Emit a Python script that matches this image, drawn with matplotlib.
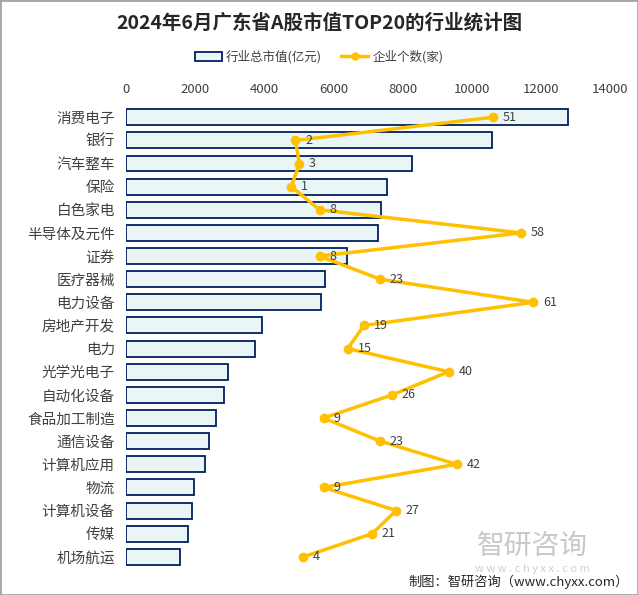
import matplotlib.pyplot as plt
import numpy as np
from matplotlib.patches import Rectangle
from matplotlib.lines import Line2D

plt.rcParams['font.family'] = ['Noto Sans CJK SC', 'DejaVu Sans']

# data
industries = ['消费电子', '银行', '汽车整车', '保险', '白色家电', '半导体及元件', '证券',
              '医疗器械', '电力设备', '房地产开发', '电力', '光学光电子', '自动化设备',
              '食品加工制造', '通信设备', '计算机应用', '物流', '计算机设备', '传媒', '机场航运']
market_cap = [12800, 10590, 8280, 7550, 7380, 7300, 6400, 5760, 5630, 3920, 3740,
              2940, 2840, 2610, 2410, 2290, 1980, 1920, 1800, 1570]
companies = [51, 2, 3, 1, 8, 58, 8, 23, 61, 19, 15, 40, 26, 9, 23, 42, 9, 27, 21, 4]

bar_face = '#EAF6F6'
bar_edge = '#002060'
line_col = '#FFC000'
txt_col = '#404040'

fig = plt.figure(figsize=(6.38, 5.95), dpi=100)
ax = fig.add_axes([0.1975, 0.0447, 0.7585, 0.7777])

y = np.arange(len(industries))
ax.barh(y, market_cap, height=0.69, color=bar_face, edgecolor=bar_edge, linewidth=1.3)
ax.set_ylim(len(industries) - 0.5, -0.5)
ax.set_xlim(0, 14000)
ax.set_yticks(y)
ax.set_yticklabels(industries, fontsize=10.5, color=txt_col)
ax.tick_params(axis='y', length=0, pad=8)
for s in ax.spines.values():
    s.set_visible(False)

# company count on a hidden second axis
ax2 = ax.twiny()
ax2.set_xlim(-40, 80)
ax2.plot(companies, y, color=line_col, linewidth=2.5, marker='o', markersize=6)
for xi, yi in zip(companies, y):
    ax2.annotate(str(xi), (xi, yi), xytext=(7, 0), textcoords='offset points',
                 ha='left', va='center', fontsize=9, color=txt_col)
ax2.set_xticks([])
for s in ax2.spines.values():
    s.set_visible(False)

# value axis labels on top
ax.xaxis.set_ticks_position('top')
ax.set_xticks(range(0, 14001, 2000))
ax.tick_params(axis='x', length=0, labelsize=9.5, colors=txt_col, pad=7,
               labeltop=True, labelbottom=False)

fig.text(0.5, 0.962, '2024年6月广东省A股市值TOP20的行业统计图', ha='center', va='center',
         fontsize=14, fontweight='bold', color='#262626')

handles = [Rectangle((0, 0), 1, 1, facecolor=bar_face, edgecolor=bar_edge, linewidth=1.3),
           Line2D([], [], color=line_col, linewidth=2.5, marker='o', markersize=5)]
fig.legend(handles, ['行业总市值(亿元)', '企业个数(家)'], loc='center', bbox_to_anchor=(0.5, 0.904),
           ncol=2, frameon=False, fontsize=9, handlelength=2.2, columnspacing=1.5,
           labelcolor=txt_col, handletextpad=0.3)

# watermark and source
fig.text(0.835, 0.082, '智研咨询', ha='center', va='center', fontsize=20, color='#c8c8c8')
fig.text(0.835, 0.043, 'w w w . c h y x x . c o m', ha='center', va='center', fontsize=8, color='#d0d0d0')
fig.text(0.985, 0.022, '制图：智研咨询（www.chyxx.com）', ha='right', va='center', fontsize=9.5, color='#262626')

fig.add_artist(Rectangle((0, 0), 1, 1, transform=fig.transFigure, fill=False,
                         edgecolor='#a6a6a6', linewidth=2))

fig.savefig('out.png', dpi=100)
